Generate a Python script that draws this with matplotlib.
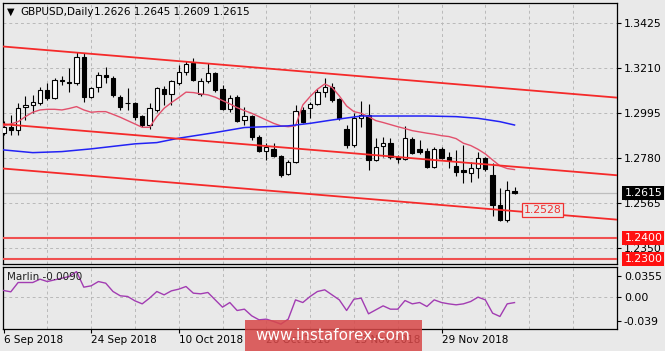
import matplotlib
matplotlib.use("Agg")
import matplotlib.pyplot as plt
from matplotlib.patches import Rectangle

# GBPUSD daily candles, 6 Sep 2018 .. 13 Dec 2018 (bar index = trading day)
opens = [1.2900, 1.2928, 1.2915, 1.3027, 1.3035, 1.3045, 1.3107, 1.3067, 1.3155, 1.3145,
         1.3139, 1.3266, 1.3075, 1.3123, 1.3178, 1.3163, 1.3075, 1.3043, 1.3043, 1.2982,
         1.2940, 1.3011, 1.3112, 1.3088, 1.3139, 1.3190, 1.3234, 1.3088, 1.3151, 1.3186,
         1.3110, 1.3014, 1.3075, 1.2963, 1.2982, 1.2880, 1.2817, 1.2823, 1.2791, 1.2705,
         1.2764, 1.3011, 1.3019, 1.3038, 1.3096, 1.3123, 1.3062, 1.2918, 1.2844, 1.2971,
         1.2987, 1.2772, 1.2838, 1.2852, 1.2788, 1.2775, 1.2871, 1.2823, 1.2817, 1.2740,
         1.2823, 1.2788, 1.2743, 1.2724, 1.2711, 1.2732, 1.2780, 1.2700, 1.2557, 1.2485,
         1.2626]
highs = [1.2960, 1.2985, 1.3045, 1.3080, 1.3083, 1.3123, 1.3139, 1.3162, 1.3174, 1.3210,
         1.3290, 1.3282, 1.3123, 1.3194, 1.3218, 1.3171, 1.3083, 1.3115, 1.3051, 1.2987,
         1.3043, 1.3123, 1.3125, 1.3155, 1.3226, 1.3247, 1.3258, 1.3162, 1.3234, 1.3194,
         1.3131, 1.3083, 1.3083, 1.3027, 1.2987, 1.2892, 1.2855, 1.2855, 1.2796, 1.2772,
         1.3035, 1.3027, 1.3051, 1.3110, 1.3163, 1.3139, 1.3067, 1.2939, 1.2995, 1.3055,
         1.3040, 1.2876, 1.2880, 1.2879, 1.2796, 1.2932, 1.2880, 1.2868, 1.2828, 1.2836,
         1.2836, 1.2812, 1.2820, 1.2844, 1.2764, 1.2812, 1.2788, 1.2756, 1.2640, 1.2673,
         1.2645]
lows = [1.2890, 1.2890, 1.2892, 1.2965, 1.2995, 1.3035, 1.3059, 1.3062, 1.3131, 1.3099,
        1.3131, 1.3051, 1.3067, 1.3099, 1.3139, 1.3075, 1.3011, 1.3011, 1.2963, 1.2928,
        1.2919, 1.3003, 1.3035, 1.3035, 1.3131, 1.3178, 1.3147, 1.3078, 1.3139, 1.3099,
        1.3011, 1.3003, 1.2955, 1.2939, 1.2868, 1.2812, 1.2772, 1.2785, 1.2692, 1.2700,
        1.2759, 1.2947, 1.2971, 1.3035, 1.3075, 1.3051, 1.2963, 1.2828, 1.2836, 1.2930,
        1.2724, 1.2769, 1.2788, 1.2775, 1.2759, 1.2772, 1.2801, 1.2801, 1.2732, 1.2732,
        1.2775, 1.2732, 1.2695, 1.2661, 1.2668, 1.2684, 1.2721, 1.2505, 1.2480, 1.2477,
        1.2609]
closes = [1.2928, 1.2915, 1.3020, 1.3035, 1.3051, 1.3107, 1.3067, 1.3155, 1.3147, 1.3142,
          1.3266, 1.3075, 1.3115, 1.3178, 1.3167, 1.3083, 1.3027, 1.3046, 1.2976, 1.2940,
          1.3019, 1.3115, 1.3088, 1.3147, 1.3190, 1.3231, 1.3155, 1.3151, 1.3186, 1.3107,
          1.3014, 1.3067, 1.2960, 1.2982, 1.2884, 1.2817, 1.2833, 1.2791, 1.2700, 1.2764,
          1.3008, 1.2955, 1.3038, 1.3096, 1.3123, 1.3059, 1.2971, 1.2844, 1.2971, 1.2987,
          1.2772, 1.2833, 1.2852, 1.2785, 1.2775, 1.2876, 1.2807, 1.2812, 1.2740, 1.2823,
          1.2780, 1.2772, 1.2716, 1.2716, 1.2732, 1.2780, 1.2728, 1.2557, 1.2485, 1.2629,
          1.2615]

# short moving average (pink), one value per bar
pink_ma = [1.2935, 1.2944, 1.2955, 1.2979, 1.3000, 1.3011, 1.3014, 1.3014, 1.3011, 1.3018,
           1.3027, 1.3011, 1.3000, 1.3003, 1.3003, 1.2990, 1.2976, 1.2960, 1.2944, 1.2928,
           1.2928, 1.2979, 1.3019, 1.3046, 1.3070, 1.3096, 1.3094, 1.3088, 1.3083, 1.3072,
           1.3056, 1.3040, 1.3022, 1.3008, 1.2995, 1.2979, 1.2963, 1.2947, 1.2935, 1.2931,
           1.2935, 1.3035, 1.3075, 1.3110, 1.3135, 1.3119, 1.3078, 1.3030, 1.3003, 1.2995,
           1.2979, 1.2960, 1.2951, 1.2941, 1.2931, 1.2922, 1.2912, 1.2906, 1.2900, 1.2895,
           1.2888, 1.2884, 1.2874, 1.2852, 1.2841, 1.2823, 1.2801, 1.2772, 1.2744, 1.2731,
           1.2726]

# long moving average (blue), read at a few bars
blue_idx = [0, 4, 8, 12, 18, 21, 24, 29, 33, 36, 39, 42, 45, 49, 54, 58, 62, 65, 68, 70]
blue_ma = [1.2820, 1.2807, 1.2812, 1.2825, 1.2849, 1.2855, 1.2876, 1.2903, 1.2927, 1.2931,
           1.2935, 1.2947, 1.2963, 1.2982, 1.2982, 1.2982, 1.2979, 1.2971, 1.2955, 1.2939]

marlin = [0.0110, 0.0088, 0.0242, 0.0242, 0.0242, 0.0297, 0.0258, 0.0286, 0.0313, 0.0341,
          0.0423, 0.0165, 0.0187, 0.0258, 0.0231, 0.0093, 0.0022, 0.0011, -0.0061, -0.0111,
          -0.0017, 0.0093, 0.0038, 0.0104, 0.0132, 0.0176, 0.0066, 0.0055, 0.0077, -0.0045,
          -0.0166, -0.0089, -0.0221, -0.0199, -0.0309, -0.0375, -0.0364, -0.0402, -0.0446, -0.0364,
          -0.0045, -0.0089, 0.0011, 0.0093, 0.0121, 0.0038, -0.0045, -0.0221, -0.0034, -0.0017,
          -0.0276, -0.0210, -0.0144, -0.0199, -0.0199, -0.0056, -0.0111, -0.0089, -0.0155, -0.0045,
          -0.0089, -0.0111, -0.0127, -0.0111, -0.0072, -0.0000, -0.0045, -0.0265, -0.0320, -0.0111,
          -0.0090]

date_ticks = [0, 12, 24, 36, 48, 60]
date_labels = ["6 Sep 2018", "24 Sep 2018", "10 Oct 2018", "26 Oct 2018", "13 Nov 2018", "29 Nov 2018"]
price_ticks = [1.3425, 1.3210, 1.2995, 1.2780, 1.2565, 1.2350]
marlin_ticks = [0.0355, 0.0, -0.039]
marlin_labels = ["0.0355", "0.00", "-0.039"]

# descending channel, (bar, price) at both ends
channel_x = [0, 84]
channel_upper = [1.3314, 1.3070]
channel_mid = [1.2943, 1.2699]
channel_low = [1.2731, 1.2487]
levels = [1.2400, 1.2300]
last_price = 1.2615
channel_label = 1.2528

BG = "#e9e9e9"
GRID = "#b9b9b9"

fig = plt.figure(figsize=(6.65, 3.51), dpi=100)
fig.patch.set_facecolor(BG)
ax = fig.add_axes([3 / 665, 1 - 264 / 351, 614 / 665, 261 / 351])
ax2 = fig.add_axes([3 / 665, 1 - 329 / 351, 614 / 665, 62 / 351])

for a in (ax, ax2):
    a.set_facecolor(BG)
    a.set_xlim(-0.07, 84.04)
    for s in a.spines.values():
        s.set_color("black")
        s.set_linewidth(0.9)
    for i in range(6, 85, 6):
        a.axvline(i, color=GRID, lw=0.7, ls=(0, (3, 3)), zorder=0)

ax.set_ylim(1.22749, 1.35220)
ax2.set_ylim(-0.0527, 0.04986)

# grid
for p in price_ticks:
    ax.axhline(p, color=GRID, lw=0.7, ls=(0, (3, 3)), zorder=0)
ax2.axhline(0.0, color=GRID, lw=0.7, ls=(0, (3, 3)), zorder=0)

# current price line
ax.axhline(last_price, color="#bdbdbd", lw=0.9, zorder=1)

# candles
n = len(opens)
xs = list(range(n))
ax.vlines(xs, lows, highs, color="black", lw=0.8, zorder=2)
for i in xs:
    o, c = opens[i], closes[i]
    bottom = min(o, c)
    h = max(abs(c - o), 0.00012)
    face = "white" if c > o else "black"
    ax.add_patch(Rectangle((i - 0.29, bottom), 0.58, h, facecolor=face,
                           edgecolor="black", lw=0.8, zorder=3))

# moving averages
ax.plot(xs, pink_ma, color="#e2506c", lw=1.0, zorder=4)
ax.plot(blue_idx, blue_ma, color="#2222f5", lw=1.1, zorder=4)

# channel and levels
for line in (channel_upper, channel_mid, channel_low):
    ax.plot(channel_x, line, color="#f52a2a", lw=1.3, zorder=5)
for lv in levels:
    ax.axhline(lv, color="#f05050", lw=1.5, zorder=5)

ax.text(71.3, 1.2533, f"{channel_label:.4f}", color="#f03030", fontsize=7.8,
        ha="left", va="center", zorder=6,
        bbox=dict(boxstyle="square,pad=0.15", fc=BG, ec="#f03030", lw=0.9))

# right price scale
ax.set_xticks([])
ax.yaxis.tick_right()
ax.set_yticks(price_ticks)
ax.set_yticklabels([f"{p:.4f}" for p in price_ticks])
ax.tick_params(axis="y", length=3, width=0.8, labelsize=7.8, pad=2, colors="black")

trans = ax.get_yaxis_transform()
ax.text(1.012, last_price, f"{last_price:.4f}", transform=trans, color="white",
        fontsize=7.8, ha="left", va="center", clip_on=False, zorder=10,
        bbox=dict(boxstyle="square,pad=0.18", fc="black", ec="none"))
for lv in levels:
    ax.text(1.012, lv, f"{lv:.4f}", transform=trans, color="white",
            fontsize=7.8, ha="left", va="center", clip_on=False, zorder=10,
            bbox=dict(boxstyle="square,pad=0.18", fc="#ff1010", ec="none"))

# title
ax.text(0.006, 0.9655, "\u25bc", transform=ax.transAxes, fontsize=7, va="center", ha="left")
ax.text(0.028, 0.9655, "GBPUSD,Daily", transform=ax.transAxes, fontsize=7.5, va="center", ha="left")
ax.text(0.148, 0.9655, f"{opens[-1]:.4f} {highs[-1]:.4f} {lows[-1]:.4f} {closes[-1]:.4f}",
        transform=ax.transAxes, fontsize=7.5, va="center", ha="left")

# Marlin oscillator
ax2.plot(xs, marlin, color="#a23cb2", lw=1.0, zorder=3)
ax2.text(0.006, 0.84, f"Marlin {marlin[-1]:.4f}", transform=ax2.transAxes,
         fontsize=7.5, va="center", ha="left", color="#202020")
ax2.yaxis.tick_right()
ax2.set_yticks(marlin_ticks)
ax2.set_yticklabels(marlin_labels)
ax2.tick_params(axis="y", length=3, width=0.8, labelsize=7.8, pad=2)
ax2.set_xticks(date_ticks)
ax2.set_xticklabels(date_labels, ha="left")
ax2.tick_params(axis="x", length=3, width=0.8, labelsize=7.5, pad=1.5)

# watermark (sits over the dates, as in the source image)
fig.patches.append(Rectangle((245 / 665, 0), 177 / 665, 31 / 351, transform=fig.transFigure,
                             facecolor="#d84848", alpha=0.85, edgecolor="none", zorder=20))
fig.text(333 / 665, 15 / 351, "www.instaforex.com", color="white", fontsize=11,
         ha="center", va="center", zorder=21)

fig.savefig("out.png", dpi=100, facecolor=BG)
